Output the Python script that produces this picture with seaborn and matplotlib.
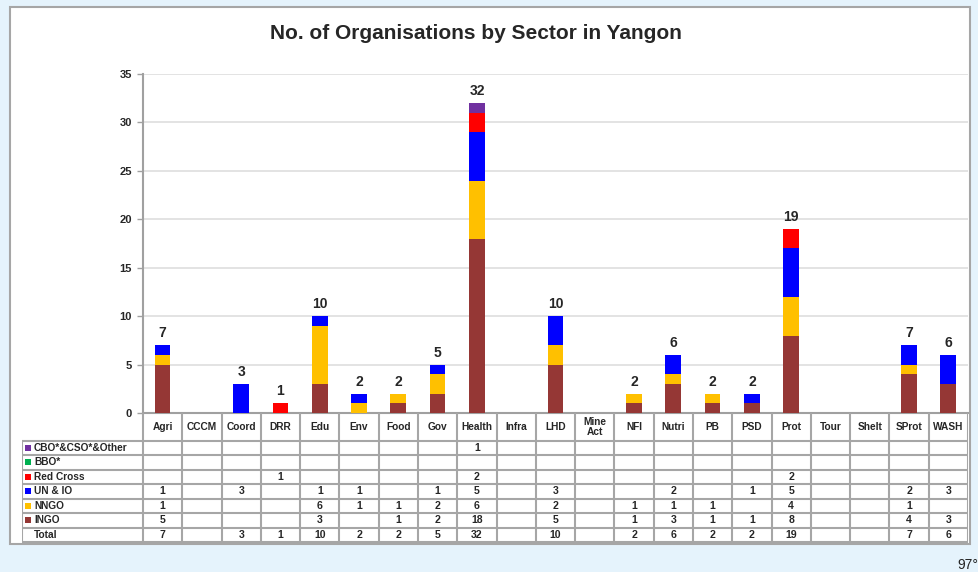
import numpy as np
import pandas as pd
import matplotlib.pyplot as plt
import seaborn as sns
from matplotlib.patches import Rectangle

sns.set_theme(style="white")
plt.rcParams['font.family'] = ['Liberation Sans', 'DejaVu Sans']

# sectors and counts by organisation type
sectors = ["Agri", "CCCM", "Coord", "DRR", "Edu", "Env", "Food", "Gov", "Health", "Infra", "LHD",
           "Mine\nAct", "NFI", "Nutri", "PB", "PSD", "Prot", "Tour", "Shelt", "SProt", "WASH"]
ingo = [5, 0, 0, 0, 3, 0, 1, 2, 18, 0, 5, 0, 1, 3, 1, 1, 8, 0, 0, 4, 3]
nngo = [1, 0, 0, 0, 6, 1, 1, 2, 6, 0, 2, 0, 1, 1, 1, 0, 4, 0, 0, 1, 0]
un_io = [1, 0, 3, 0, 1, 1, 0, 1, 5, 0, 3, 0, 0, 2, 0, 1, 5, 0, 0, 2, 3]
red_cross = [0, 0, 0, 1, 0, 0, 0, 0, 2, 0, 0, 0, 0, 0, 0, 0, 2, 0, 0, 0, 0]
bbo = [0] * 21
cbo = [0, 0, 0, 0, 0, 0, 0, 0, 1, 0, 0, 0, 0, 0, 0, 0, 0, 0, 0, 0, 0]

series = ["INGO", "NNGO", "UN & IO", "Red Cross", "BBO*", "CBO*&CSO*&Other"]
colors = ["#953735", "#FFC000", "#0000FF", "#FF0000", "#00B050", "#7030A0"]

df = pd.DataFrame({"Sector": sectors, "INGO": ingo, "NNGO": nngo, "UN & IO": un_io,
                   "Red Cross": red_cross, "BBO*": bbo, "CBO*&CSO*&Other": cbo})
cum = df[series].cumsum(axis=1)
totals = df[series].sum(axis=1)

W, H = 979, 572
fig = plt.figure(figsize=(W / 100, H / 100), dpi=100, facecolor="#E5F3FC")
fig.add_artist(Rectangle((10 / W, 1 - 544 / H), 960 / W, 537 / H, transform=fig.transFigure,
                         facecolor="white", edgecolor="#A6A6A6", lw=1.5, zorder=0))

ax = fig.add_axes([143 / W, 1 - 413 / H, 825 / W, 339 / H])
ax.set_facecolor("white")
# stacked bars: draw cumulative heights from top layer down
for s, c in reversed(list(zip(series, colors))):
    sns.barplot(x=df["Sector"], y=cum[s], color=c, saturation=1, width=0.4,
                order=sectors, ax=ax, zorder=3, linewidth=0)
ax.set_xlim(-0.5, len(sectors) - 0.5)
ax.set_ylim(0, 35)
ax.set_yticks(range(0, 36, 5))
ax.yaxis.grid(True, color="#DEDEDE", lw=1.2, zorder=0)
ax.set_xticks([])
ax.set_xlabel("")
ax.set_ylabel("")
for sp in ["top", "right"]:
    ax.spines[sp].set_visible(False)
for sp in ["left", "bottom"]:
    ax.spines[sp].set_color("#A0A0A0")
    ax.spines[sp].set_linewidth(1.5)
ax.tick_params(axis="y", left=True, length=4, width=1, color="#A0A0A0", labelsize=8, pad=4)
for lab in ax.get_yticklabels():
    lab.set_fontweight("bold")
for i, t in enumerate(totals):
    if t > 0:
        ax.text(i, t + 0.5, str(t), ha="center", va="bottom", fontsize=10, fontweight="bold")

ax.set_title("No. of Organisations by Sector in Yangon", fontsize=15, fontweight="bold",
             x=(476 - 143) / 825, y=1.0, pad=25)

# data table below the axis
col_w = 825 / 21
lab_w = 121 / col_w
tax = fig.add_axes([22 / W, 1 - 543 / H, 946 / W, 130 / H])
tax.axis("off")
tax.set_xlim(-0.5 - lab_w, 20.5)
tax.set_ylim(130, 0)
line_c = "#A6A6A6"
hdr = 27.5
rh = 14.5
n_rows = 7
bottom = hdr + rh * n_rows
for k in range(22):
    tax.plot([k - 0.5, k - 0.5], [0, bottom], color=line_c, lw=1.5)
tax.plot([-0.5 - lab_w, -0.5 - lab_w], [hdr, bottom], color=line_c, lw=1.5)
for r in range(n_rows + 1):
    tax.plot([-0.5 - lab_w, 20.5], [hdr + r * rh] * 2, color=line_c, lw=1.5)

for i, name in enumerate(sectors):
    tax.text(i, hdr / 2, name, ha="center", va="center", fontsize=7.3, fontweight="bold",
             linespacing=0.95)

rows = [("CBO*&CSO*&Other", cbo, "#7030A0"), ("BBO*", bbo, "#00B050"),
        ("Red Cross", red_cross, "#FF0000"), ("UN & IO", un_io, "#0000FF"),
        ("NNGO", nngo, "#FFC000"), ("INGO", ingo, "#953735"),
        ("Total", list(totals), None)]
for r, (name, vals, c) in enumerate(rows):
    yc = hdr + r * rh + rh / 2
    if c is not None:
        tax.scatter([-0.5 - lab_w + 6 / col_w], [yc], marker="s", s=22, color=c, linewidths=0)
    tax.text(-0.5 - lab_w + 12 / col_w, yc, name, ha="left", va="center", fontsize=7.3,
             fontweight="bold")
    for i, v in enumerate(vals):
        if v > 0:
            tax.text(i, yc, str(v), ha="center", va="center", fontsize=7.6, fontweight="bold")

fig.text(957 / W, 1 - 565 / H, "97°", ha="left", va="center", fontsize=10, color="#222222")

fig.savefig("out.png", dpi=100, facecolor=fig.get_facecolor())
